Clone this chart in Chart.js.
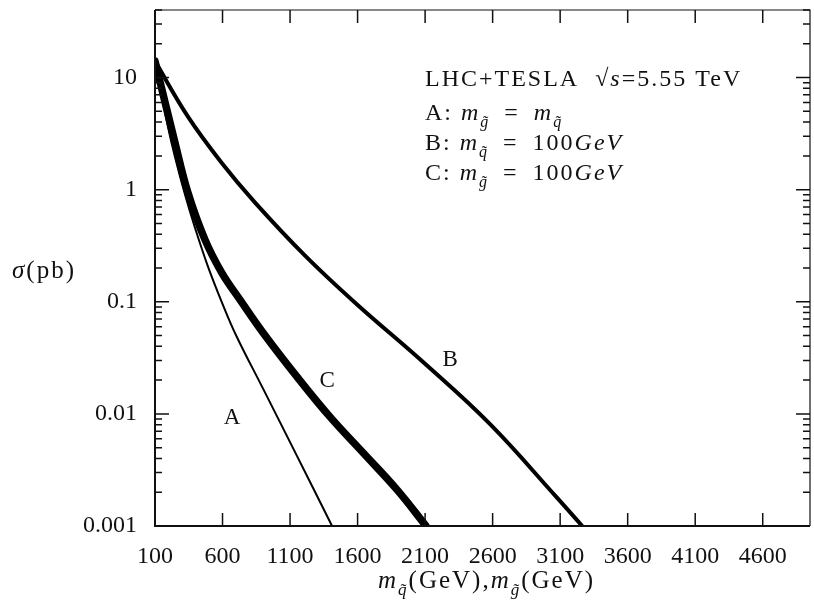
<!DOCTYPE html>
<html>
<head>
<meta charset="utf-8">
<script src="https://cdn.jsdelivr.net/npm/chart.js@4"></script>
<style>
  html, body { margin: 0; padding: 0; background: #fff; }
  #wrap { width: 814px; height: 605px; }
</style>
</head>
<body>
<div id="wrap"><canvas id="xsec"></canvas></div>
<script>
// tick labels
const xTicks = [100, 600, 1100, 1600, 2100, 2600, 3100, 3600, 4100, 4600];
const yTicks = [0.001, 0.01, 0.1, 1, 10];

// curve A: m_gluino = m_squark
const massA = [100, 196, 248, 322, 396, 493, 596, 700, 900, 1152, 1411];
const sigmaA = [14, 3.63, 1.95, 0.905, 0.458, 0.205, 0.0984, 0.0503, 0.0168, 0.0042, 0.001];

// curve B: m_squark = 100 GeV
const massB = [100, 344, 596, 841, 1211, 1596, 2085, 2581, 3078, 3263];
const sigmaB = [14, 4.48, 1.72, 0.767, 0.258, 0.0946, 0.029, 0.0081, 0.00178, 0.001];

// curve C: m_gluino = 100 GeV
const massC = [100, 248, 344, 470, 596, 730, 900, 1152, 1396, 1641, 1893, 2107];
const sigmaC = [14, 2.63, 0.94, 0.358, 0.18, 0.104, 0.053, 0.0214, 0.0094, 0.0045, 0.0021, 0.001];

const curveLabels = [
    { text: 'A', x: 670, y: 0.0092 },
    { text: 'C', x: 1374, y: 0.0197 },
    { text: 'B', x: 2285, y: 0.0303 }
];

const FONT = '"Liberation Serif", "Times New Roman", serif';
const INK = '#111';

function toPoints(xs, ys) {
    return xs.map((x, i) => ({ x: x, y: ys[i] }));
}

// draws a run of text pieces: 'r' roman, 'i' italic, 's' subscript
function rich(ctx, x, y, parts, size, spacing) {
    ctx.letterSpacing = (spacing || 0) + 'px';
    parts.forEach(function (p) {
        let f = size, dy = 0, style = '';
        if (p[1] === 'i') style = 'italic ';
        if (p[1] === 's') { style = 'italic '; f = Math.round(size * 0.68); dy = size * 0.28; }
        ctx.font = style + f + 'px ' + FONT;
        ctx.fillText(p[0], x, y + dy);
        x += ctx.measureText(p[0]).width;
    });
    ctx.letterSpacing = '0px';
    return x;
}

const framePlugin = {
    id: 'frame',
    afterDraw: function (chart) {
        const ctx = chart.ctx;
        const a = chart.chartArea;
        const xs = chart.scales.x;
        const ys = chart.scales.y;
        ctx.save();
        ctx.strokeStyle = INK;
        ctx.lineWidth = 2;
        ctx.beginPath();
        ctx.moveTo(a.left, a.top); ctx.lineTo(a.left, a.bottom); ctx.lineTo(a.right, a.bottom);
        ctx.stroke();
        ctx.lineWidth = 1.2;
        ctx.beginPath();
        ctx.moveTo(a.left, a.top); ctx.lineTo(a.right, a.top); ctx.lineTo(a.right, a.bottom);
        ctx.stroke();

        // inward ticks, bottom and top
        ctx.lineWidth = 1.5;
        ctx.beginPath();
        xTicks.forEach(function (v) {
            const px = xs.getPixelForValue(v);
            ctx.moveTo(px, a.bottom); ctx.lineTo(px, a.bottom - 13);
            ctx.moveTo(px, a.top); ctx.lineTo(px, a.top + 13);
        });
        // log ticks, left and right
        for (let d = -3; d <= 1; d++) {
            for (let m = 1; m <= 9; m++) {
                const v = m * Math.pow(10, d);
                if (v > ys.max) continue;
                const py = ys.getPixelForValue(v);
                const len = m === 1 ? 14 : 7;
                ctx.moveTo(a.left, py); ctx.lineTo(a.left + len, py);
                ctx.moveTo(a.right, py); ctx.lineTo(a.right - len, py);
            }
        }
        ctx.stroke();

        ctx.fillStyle = INK;
        ctx.textBaseline = 'alphabetic';
        ctx.textAlign = 'left';

        // legend text block
        rich(ctx, 425, 86, [['LHC+TESLA  ', 'r'], ['\u221A', 'r'], ['s', 'i'], ['=5.55 TeV', 'r']], 24, 2);
        rich(ctx, 425, 120, [['A: ', 'r'], ['m', 'i'], ['g\u0303', 's'], ['\u2002=\u2002', 'r'], ['m', 'i'], ['q\u0303', 's']], 24, 2);
        rich(ctx, 425, 150, [['B: ', 'r'], ['m', 'i'], ['q\u0303', 's'], ['\u2002=\u2002100', 'r'], ['GeV', 'i']], 24, 2);
        rich(ctx, 425, 180, [['C: ', 'r'], ['m', 'i'], ['g\u0303', 's'], ['\u2002=\u2002100', 'r'], ['GeV', 'i']], 24, 2);

        // axis titles
        rich(ctx, 12, 278, [['\u03C3', 'i'], ['(pb)', 'r']], 25, 2);
        rich(ctx, 378, 588, [['m', 'i'], ['q\u0303', 's'], ['(GeV),', 'r'], ['m', 'i'], ['g\u0303', 's'], ['(GeV)', 'r']], 25, 2);

        // curve labels
        ctx.textAlign = 'center';
        ctx.textBaseline = 'middle';
        ctx.font = '23px ' + FONT;
        curveLabels.forEach(function (l) {
            ctx.fillText(l.text, xs.getPixelForValue(l.x), ys.getPixelForValue(l.y));
        });
        ctx.restore();
    }
};

const lineBase = {
    borderColor: '#000',
    pointRadius: 0,
    fill: false,
    tension: 0.4,
    borderCapStyle: 'round',
    borderJoinStyle: 'round'
};

new Chart(document.getElementById('xsec'), {
    type: 'line',
    data: {
        datasets: [
            Object.assign({ label: 'A', data: toPoints(massA, sigmaA), borderWidth: 2 }, lineBase),
            Object.assign({ label: 'B', data: toPoints(massB, sigmaB), borderWidth: 4 }, lineBase),
            Object.assign({ label: 'C', data: toPoints(massC, sigmaC), borderWidth: 7.5 }, lineBase)
        ]
    },
    options: {
        responsive: true,
        maintainAspectRatio: false,
        animation: false,
        layout: { padding: { left: 0, right: 4, top: 10, bottom: 0 } },
        plugins: {
            legend: { display: false },
            tooltip: { enabled: false }
        },
        scales: {
            x: {
                type: 'linear',
                min: 100,
                max: 4950,
                afterBuildTicks: function (scale) {
                    scale.ticks = xTicks.map(v => ({ value: v }));
                },
                afterFit: function (scale) {
                    scale.height = 79;
                    scale.paddingLeft = 0;
                    scale.paddingRight = 0;
                },
                grid: { display: false, drawTicks: false },
                border: { display: false },
                ticks: {
                    padding: 16,
                    color: INK,
                    maxRotation: 0,
                    autoSkip: false,
                    font: { family: FONT, size: 24 },
                    callback: v => String(v)
                }
            },
            y: {
                type: 'logarithmic',
                min: 0.001,
                max: 40,
                afterBuildTicks: function (scale) {
                    scale.ticks = yTicks.map(v => ({ value: v }));
                },
                afterFit: function (scale) {
                    scale.width = 155;
                    scale.paddingTop = 0;
                    scale.paddingBottom = 0;
                },
                grid: { display: false, drawTicks: false },
                border: { display: false },
                ticks: {
                    padding: 18,
                    color: INK,
                    autoSkip: false,
                    font: { family: FONT, size: 24 },
                    callback: v => String(v)
                }
            }
        }
    },
    plugins: [framePlugin]
});
</script>
</body>
</html>
